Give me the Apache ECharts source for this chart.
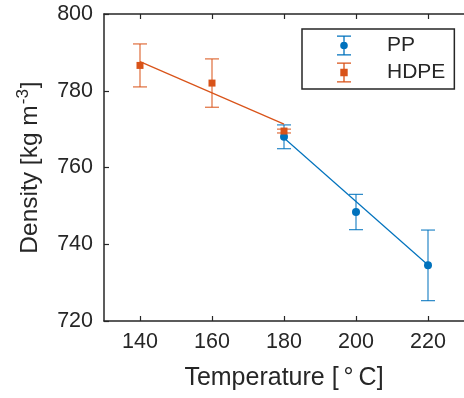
<!DOCTYPE html>
<html><head><meta charset="utf-8">
<script src="https://cdn.jsdelivr.net/npm/echarts@6/dist/echarts.min.js"></script>
<style>html,body{margin:0;padding:0;background:#fff}#c{width:464px;height:398px}</style>
</head><body><div id="c"></div>
<script>
var xTicks = [140, 160, 180, 200, 220];
var yTicks = [720, 740, 760, 780, 800];
var ppTemp = [180, 200, 220];
var ppDensity = [768.0, 748.4, 734.5];
var ppErr = [3.1, 4.6, 9.2];
var hdpeTemp = [140, 160, 180];
var hdpeDensity = [786.6, 782.0, 769.5];
var hdpeErr = [5.6, 6.3, 0.5];
var ppFitTemp = [180, 220];
var ppFitDensity = [767.7, 734.6];
var hdpeFitTemp = [140, 180];
var hdpeFitDensity = [787.6, 771.3];

var PP_C = '#0072BD', HD_C = '#D95319', AX = '#262626';
var FONT = '"Liberation Sans", Arial, Helvetica, sans-serif';

function zip(a, b, c) { return a.map(function (v, i) { return c ? [v, b[i], c[i]] : [v, b[i]]; }); }

function errRender(color) {
  return function (params, api) {
    var x = api.value(0), y = api.value(1), e = api.value(2);
    var top = api.coord([x, y + e]), bot = api.coord([x, y - e]);
    var hw = 7;
    var st = { stroke: color, lineWidth: 1.2, opacity: 0.85 };
    return { type: 'group', children: [
      { type: 'line', shape: { x1: top[0], y1: top[1], x2: bot[0], y2: bot[1] }, style: st },
      { type: 'line', shape: { x1: top[0] - hw, y1: top[1], x2: top[0] + hw, y2: top[1] }, style: st },
      { type: 'line', shape: { x1: bot[0] - hw, y1: bot[1], x2: bot[0] + hw, y2: bot[1] }, style: st }
    ]};
  };
}

var iconPP = 'path://M0,0H14V1.3H0Z M6.35,0H7.65V20H6.35Z M0,18.7H14V20H0Z M7,6.2A3.8,3.8,0,1,1,7,13.8A3.8,3.8,0,1,1,7,6.2Z';
var iconHD = 'path://M0,0H14V1.3H0Z M6.35,0H7.65V20H6.35Z M0,18.7H14V20H0Z M3.3,6.3H10.7V13.7H3.3Z';

var chart = echarts.init(document.getElementById('c'), null, { renderer: 'canvas' });
chart.setOption({
  animation: false,
  backgroundColor: '#fff',
  textStyle: { fontFamily: FONT, color: AX },
  grid: { left: 104, top: 14, width: 366, height: 307, containLabel: false },
  legend: {
    left: 302, top: 29, orient: 'vertical',
    data: [{ name: 'PP', icon: iconPP }, { name: 'HDPE', icon: iconHD }],
    itemWidth: 14, itemHeight: 20, itemGap: 6,
    padding: [6, 9, 6, 35],
    borderColor: AX, borderWidth: 1.5, backgroundColor: '#fff',
    textStyle: { fontSize: 21, color: AX, fontFamily: FONT, padding: [0, 0, 0, 31] }
  },
  xAxis: [{
    type: 'value', min: 130, max: 230, position: 'bottom',
    name: 'Temperature [\u2009°\u2009C]', nameLocation: 'middle', nameGap: 45,
    nameTextStyle: { fontSize: 25, color: AX, fontFamily: FONT },
    axisLine: { show: true, onZero: false, lineStyle: { color: AX, width: 1.5 } },
    axisTick: { show: true, inside: true, length: 5, customValues: xTicks, lineStyle: { color: AX, width: 1.2 } },
    axisLabel: { show: true, customValues: xTicks, fontSize: 21.5, color: AX, margin: 10, fontFamily: FONT },
    splitLine: { show: false }
  }, {
    type: 'value', min: 130, max: 230, position: 'top',
    axisLine: { show: true, onZero: false, lineStyle: { color: AX, width: 1.5 } },
    axisTick: { show: true, inside: true, length: 5, customValues: xTicks, lineStyle: { color: AX, width: 1.2 } },
    axisLabel: { show: false }, splitLine: { show: false }
  }],
  yAxis: [{
    type: 'value', min: 720, max: 800, interval: 20,
    name: '{a|Density [kg m}{s|-3}{a|]}', nameLocation: 'middle', nameGap: 61,
    nameTextStyle: {
      color: AX, fontFamily: FONT,
      rich: {
        a: { fontSize: 24.5, color: AX, fontFamily: FONT, lineHeight: 28, verticalAlign: 'bottom' },
        s: { fontSize: 17, color: AX, fontFamily: FONT, lineHeight: 28, verticalAlign: 'top', padding: [0, 1, 10, 1] }
      }
    },
    axisLine: { show: true, onZero: false, lineStyle: { color: AX, width: 1.5 } },
    axisTick: { show: true, inside: true, length: 5, customValues: yTicks, lineStyle: { color: AX, width: 1.2 } },
    axisLabel: { show: true, customValues: yTicks, fontSize: 21.5, color: AX, margin: 11, fontFamily: FONT },
    splitLine: { show: false }
  }],
  series: [
    { type: 'line', data: zip(ppFitTemp, ppFitDensity), symbol: 'none', lineStyle: { color: PP_C, width: 1.2 }, silent: true, z: 2 },
    { type: 'custom', data: zip(ppTemp, ppDensity, ppErr), renderItem: errRender(PP_C), z: 3 },
    { name: 'PP', type: 'scatter', data: zip(ppTemp, ppDensity), symbol: 'circle', symbolSize: 8, itemStyle: { color: PP_C, opacity: 1 }, z: 4 },
    { type: 'line', data: zip(hdpeFitTemp, hdpeFitDensity), symbol: 'none', lineStyle: { color: HD_C, width: 1.2 }, silent: true, z: 5 },
    { type: 'custom', data: zip(hdpeTemp, hdpeDensity, hdpeErr), renderItem: errRender(HD_C), z: 6 },
    { name: 'HDPE', type: 'scatter', data: zip(hdpeTemp, hdpeDensity), symbol: 'rect', symbolSize: 7, itemStyle: { color: HD_C, opacity: 1 }, z: 7 }
  ]
});
</script></body></html>
